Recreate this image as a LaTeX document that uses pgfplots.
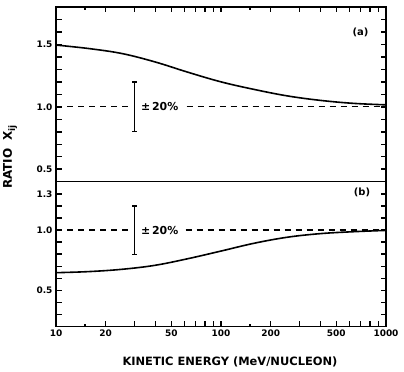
\documentclass[border=0pt]{standalone}
\usepackage{fontspec}
\setmainfont{DejaVu Sans}
\usepackage{pgfplots}
\pgfplotsset{compat=1.18}
\tikzset{
  crv/.style={smooth, tension=0.6, line width=1.6bp, black},
  dashln/.style={dash pattern=on 6bp off 5bp, line width=1.1bp, black},
  ebar/.style={line width=1.3bp, black},
}
\begin{document}
\begin{tikzpicture}
\begin{axis}[name=top, height=174.7bp,
  scale only axis, width=330bp, xmode=log, xmin=10, xmax=1000,
  axis line style={line width=1.4bp},
  xtick align=inside, ytick align=inside,
  major tick style={draw=black, line width=1.5bp},
  minor tick style={draw=black, line width=1.5bp},
  major tick length=5.5bp, minor tick length=3bp,
  xtick={10,20,30,40,50,60,70,80,90,100,200,300,400,500,600,700,800,900,1000},
  minor xtick={15,150},
  ytick pos=both, yticklabel pos=left,
  tick label style={font=\bfseries\fontsize{9}{10}\selectfont},
  /pgf/number format/assume math mode=true,
  ymin=0.4, ymax=1.8,
  ytick={0.5,0.6,0.7,0.8,0.9,1.0,1.1,1.2,1.3,1.4,1.5,1.6,1.7},
  yticklabels={0.5,,,,,1.0,,,,,1.5,,},
  xtick pos=upper, xticklabels={},
]
\addplot[crv] table {
10 1.495
15.8 1.467
25.1 1.427
39.8 1.360
63.1 1.277
100 1.200
158 1.140
251 1.088
398 1.052
631 1.028
1000 1.016
};
\addplot[dashln] coordinates {(10,1) (28.5,1)};
\addplot[dashln] coordinates {(62,1) (1000,1)};
\addplot[ebar] coordinates {(30,0.8) (30,1.2)};
\addplot[ebar] coordinates {(28.97,1.2) (31.07,1.2)};
\addplot[ebar] coordinates {(28.97,0.8) (31.07,0.8)};
\node[anchor=west, inner sep=0, font=\bfseries\fontsize{11}{12}\selectfont] at (axis cs:32.7,1) {±\,20\%};
\node[font=\bfseries\fontsize{10}{12}\selectfont] at (axis cs:700,1.6) {(a)};
\end{axis}
\begin{axis}[name=bot, height=145bp, at={(top.south west)}, anchor=north west,
  scale only axis, width=330bp, xmode=log, xmin=10, xmax=1000,
  axis line style={line width=1.4bp},
  xtick align=inside, ytick align=inside,
  major tick style={draw=black, line width=1.5bp},
  minor tick style={draw=black, line width=1.5bp},
  major tick length=5.5bp, minor tick length=3bp,
  xtick={10,20,30,40,50,60,70,80,90,100,200,300,400,500,600,700,800,900,1000},
  minor xtick={15,150},
  ytick pos=both, yticklabel pos=left,
  tick label style={font=\bfseries\fontsize{9}{10}\selectfont},
  /pgf/number format/assume math mode=true,
  ymin=0.2, ymax=1.4,
  ytick={0.3,0.4,0.5,0.6,0.7,0.8,0.9,1.0,1.1,1.2,1.3},
  yticklabels={,,0.5,,,,,1.0,,,1.3},
  xtick pos=lower,
  xticklabels={10,20,,,50,,,,,100,200,,,500,,,,,1000},
]
\addplot[crv] table {
10 0.647
15.8 0.656
25.1 0.675
39.8 0.708
63.1 0.763
100 0.826
158 0.890
251 0.940
398 0.970
631 0.986
1000 0.997
};
\addplot[dashln] coordinates {(10,1) (27.5,1)};
\addplot[dashln] coordinates {(61,1) (1000,1)};
\addplot[ebar] coordinates {(30,0.8) (30,1.2)};
\addplot[ebar] coordinates {(28.97,1.2) (31.07,1.2)};
\addplot[ebar] coordinates {(28.97,0.8) (31.07,0.8)};
\node[anchor=west, inner sep=0, font=\bfseries\fontsize{11}{12}\selectfont] at (axis cs:32.7,1) {±\,20\%};
\node[font=\bfseries\fontsize{10}{12}\selectfont] at (axis cs:715,1.315) {(b)};
\end{axis}
\path (top.north west) ++(-46bp,-150bp) node[rotate=90, font=\bfseries\fontsize{12}{13}\selectfont] {RATIO\ \ X\raisebox{-0.5ex}{\fontsize{9}{10}\selectfont ij}};
\path (bot.south) ++(9bp,-35bp) node[font=\bfseries\fontsize{11.5}{13}\selectfont] {KINETIC ENERGY (MeV/NUCLEON)};
\pgfresetboundingbox
\path[use as bounding box] (top.north west) ++(-56bp,7bp) rectangle ++(404bp,-372bp);
\end{tikzpicture}
\end{document}
